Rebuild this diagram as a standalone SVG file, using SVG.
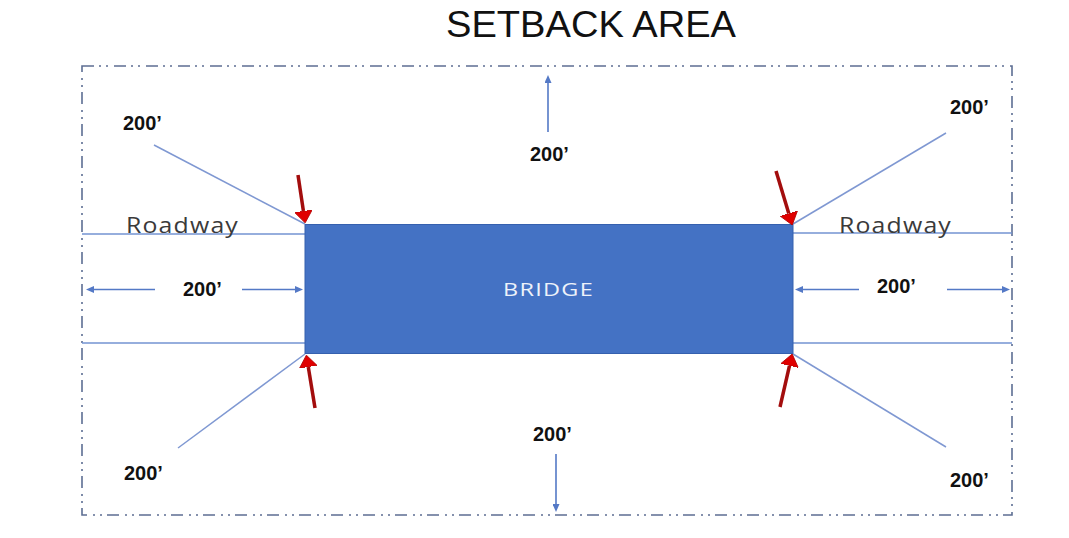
<svg xmlns="http://www.w3.org/2000/svg" width="1069" height="538" viewBox="0 0 1069 538">
<style>
.border{fill:none;stroke:#5d6e93;stroke-width:1.6;stroke-dasharray:12 5 2 5 2 6}
.road{stroke:#7393d2;stroke-width:1.6;fill:none}
.diag{stroke:#7f98d2;stroke-width:1.5;fill:none}
.dim{stroke:#5479c6;stroke-width:1.6;fill:none;marker-end:url(#bh)}
.red{stroke:#a30d0d;stroke-width:3.5;fill:none;marker-end:url(#rh)}
.lbl{font-family:"Liberation Sans",Arial,sans-serif;font-weight:bold;font-size:20px;fill:#111}
.road-t{font-family:"Open Sans","Noto Sans",sans-serif;font-size:21px;fill:#3a3a3a;letter-spacing:1px}
</style>
<defs>
<marker id="bh" viewBox="0 0 8 7" refX="0" refY="3.5" markerWidth="8" markerHeight="7" markerUnits="userSpaceOnUse" orient="auto"><path d="M0,0 L8,3.5 L0,7 z" fill="#5479c6"/></marker>
<marker id="rh" viewBox="0 0 12 18" refX="0" refY="9" markerWidth="12" markerHeight="18" markerUnits="userSpaceOnUse" orient="auto"><path d="M0,0 L12,9 L0,18 z" fill="#e00000" stroke="#b00000" stroke-width="0.8"/></marker>
</defs>
<rect width="1069" height="538" fill="#ffffff"/>
<text id="title" x="446" y="37" textLength="290" lengthAdjust="spacingAndGlyphs" style="font-family:'Liberation Sans',Arial,sans-serif;font-size:37px;fill:#111">SETBACK AREA</text>
<g id="setback-border"><rect class="border" x="82" y="66" width="930" height="449"/></g>
<g id="roadway-left">
<line class="road" x1="82" y1="234" x2="305" y2="234"/>
<line class="road" x1="82" y1="343" x2="305" y2="343"/>
<text class="road-t" x="126" y="232.5" textLength="113" lengthAdjust="spacingAndGlyphs">Roadway</text>
</g>
<g id="roadway-right">
<line class="road" x1="793" y1="233" x2="1012" y2="233"/>
<line class="road" x1="793" y1="343" x2="1012" y2="343"/>
<text class="road-t" x="839" y="232.5" textLength="113" lengthAdjust="spacingAndGlyphs">Roadway</text>
</g>
<g id="bridge">
<rect x="305" y="224.5" width="488" height="129" fill="#4472c4" stroke="#3560ae" stroke-width="1"/>
<text x="503" y="296" textLength="91" lengthAdjust="spacingAndGlyphs" style="font-family:'Open Sans','Noto Sans',sans-serif;font-size:18px;fill:#eef2fa;letter-spacing:1px">BRIDGE</text>
</g>
<g id="connectors">
<line class="diag" x1="154" y1="145" x2="305" y2="224"/>
<line class="diag" x1="178" y1="448" x2="305" y2="354"/>
<line class="diag" x1="946" y1="133" x2="793" y2="224"/>
<line class="diag" x1="946" y1="447" x2="793" y2="354"/>
<line class="dim" x1="548" y1="132" x2="548" y2="83"/>
<line class="dim" x1="556" y1="454" x2="556" y2="504"/>
<line class="dim" x1="155" y1="289.5" x2="94" y2="289.5"/>
<line class="dim" x1="242" y1="289.5" x2="295" y2="289.5"/>
<line class="dim" x1="859" y1="289.5" x2="803" y2="289.5"/>
<line class="dim" x1="947" y1="289.5" x2="1002" y2="289.5"/>
<line class="red" x1="298" y1="175" x2="303.4" y2="211"/>
<line class="red" x1="776" y1="171" x2="788.8" y2="213.5"/>
<line class="red" x1="315" y1="408" x2="308.3" y2="367"/>
<line class="red" x1="780" y1="407" x2="789.5" y2="365.7"/>
</g>
<g id="labels">
<text class="lbl" x="123" y="130">200’</text>
<text class="lbl" x="530" y="161">200’</text>
<text class="lbl" x="950" y="114">200’</text>
<text class="lbl" x="183" y="296">200’</text>
<text class="lbl" x="877" y="293">200’</text>
<text class="lbl" x="124" y="480">200’</text>
<text class="lbl" x="533" y="441">200’</text>
<text class="lbl" x="950" y="487">200’</text>
</g>
</svg>
